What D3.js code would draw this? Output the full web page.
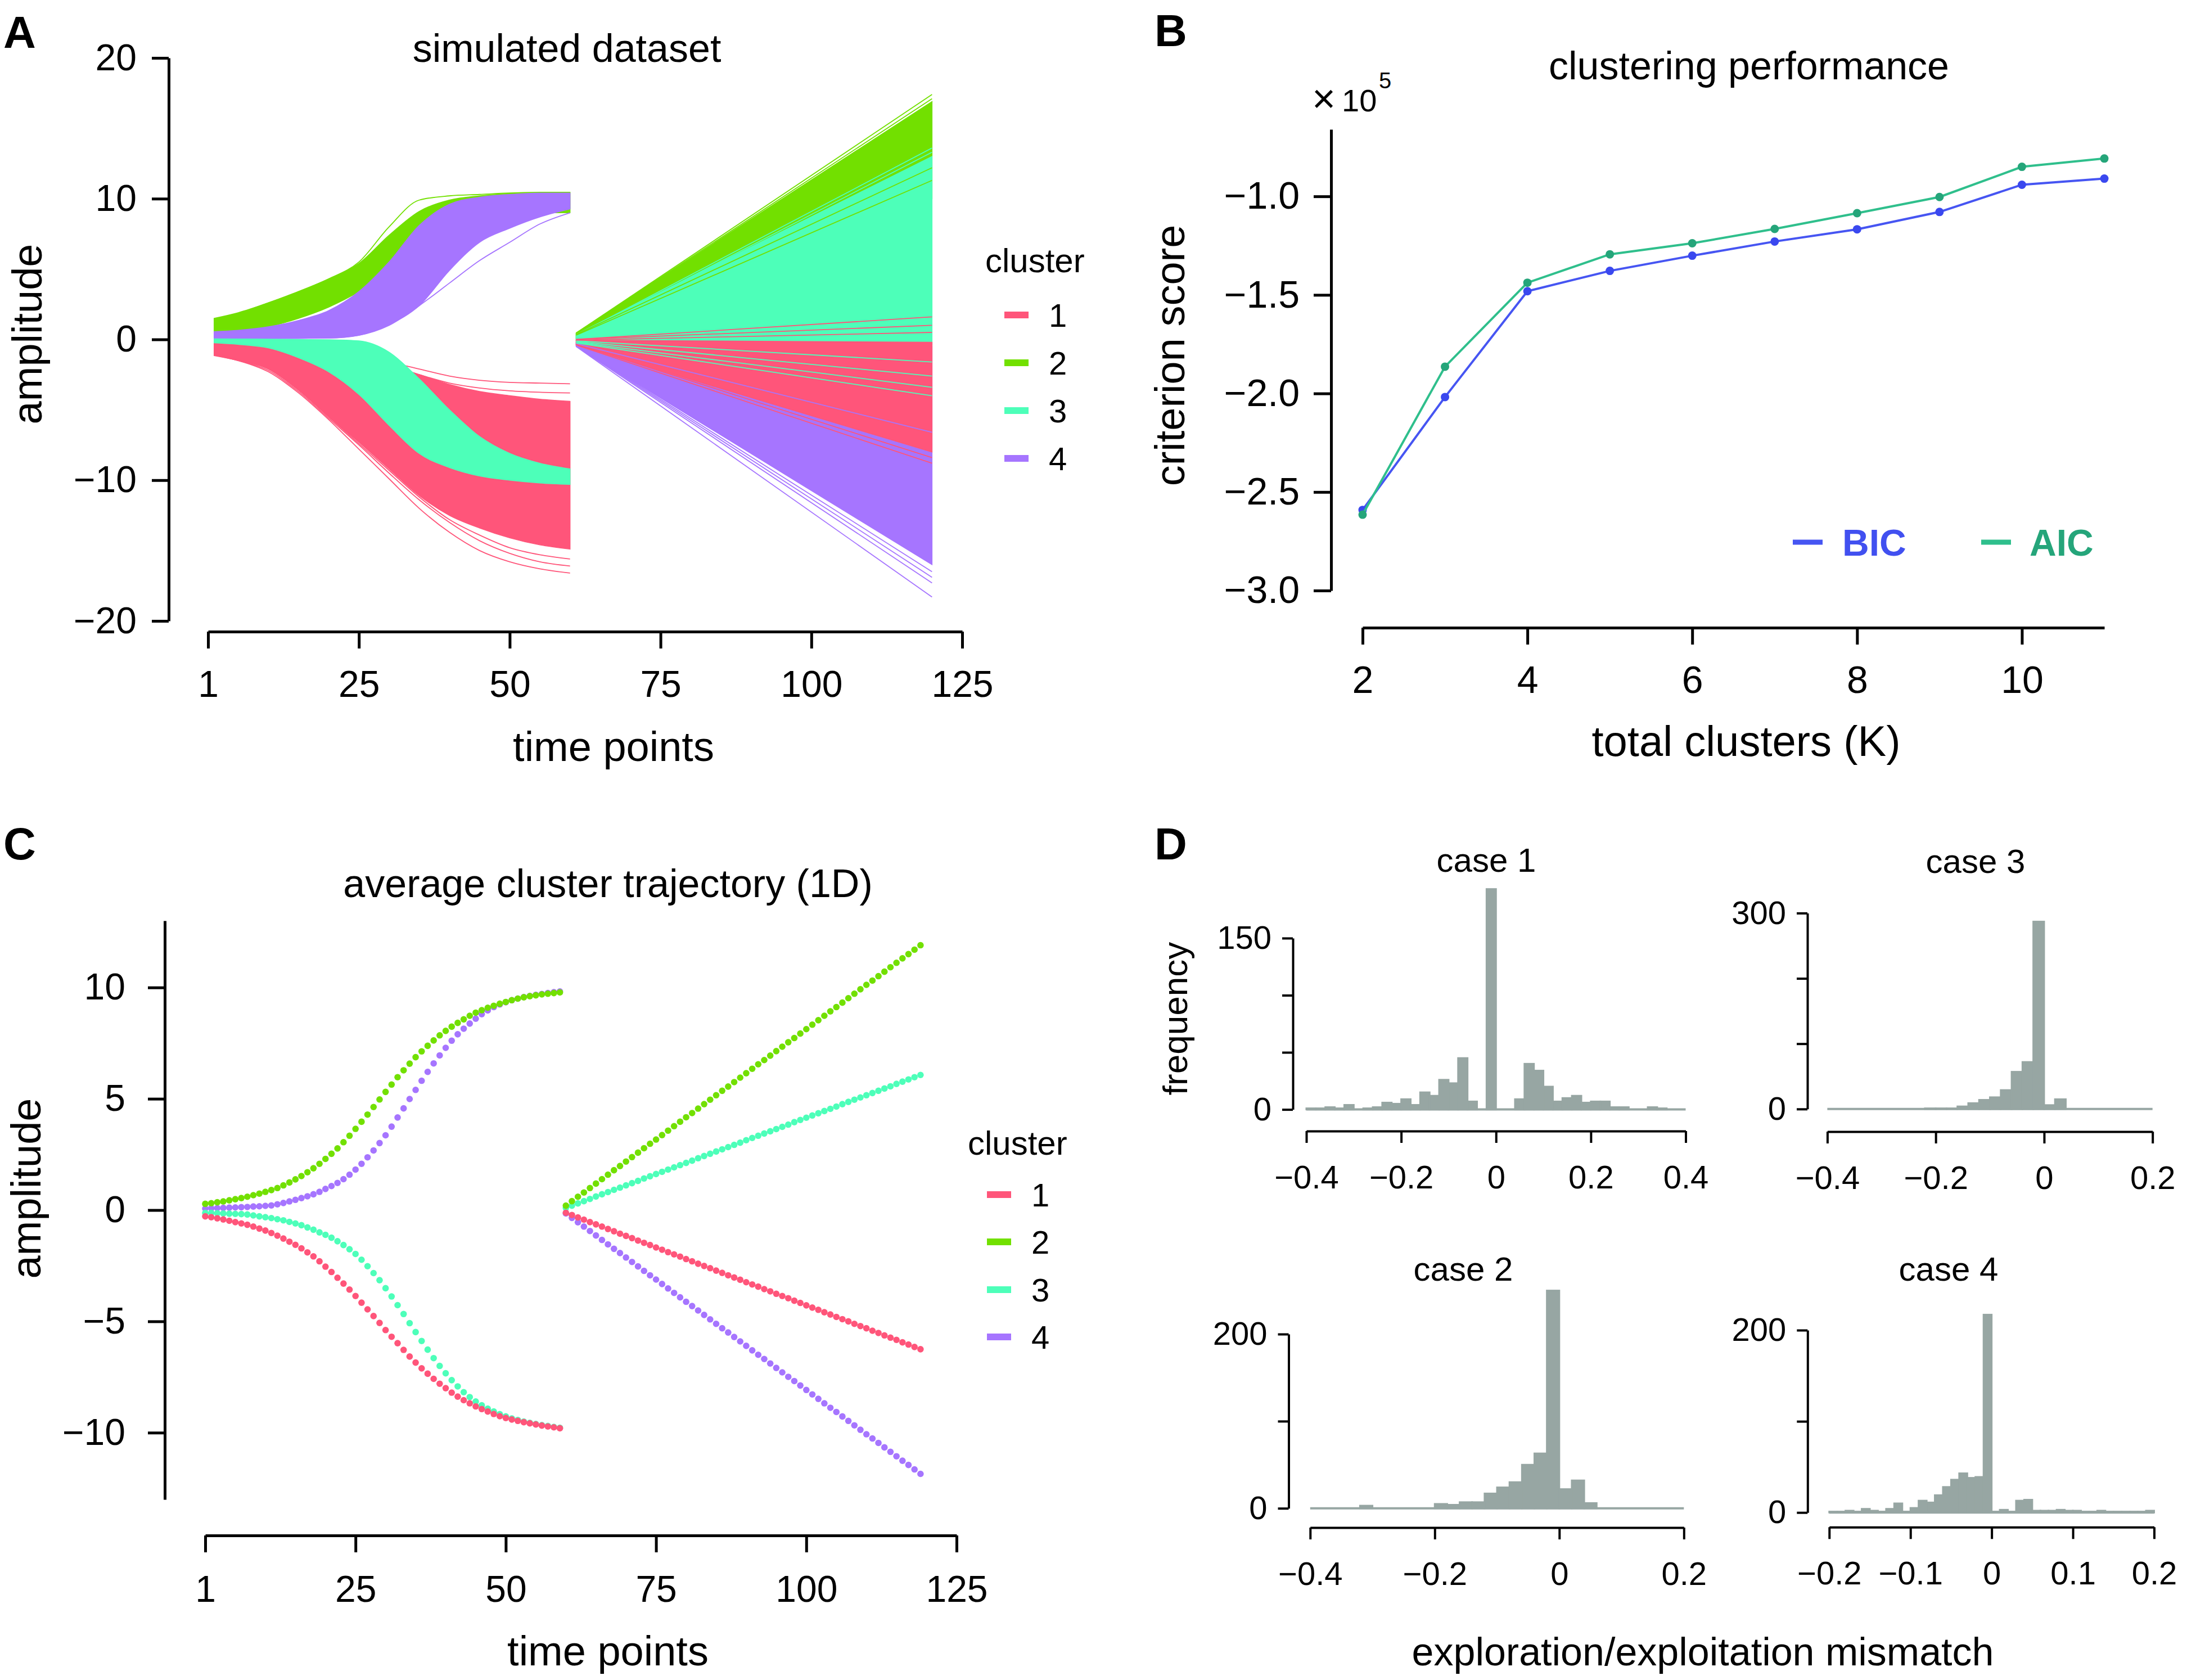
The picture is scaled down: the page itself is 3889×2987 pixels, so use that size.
<!DOCTYPE html>
<html><head><meta charset="utf-8">
<script src="https://cdn.jsdelivr.net/npm/d3@7"></script>
<style>
body{margin:0;background:#fff}
svg{display:block}
</style>
</head><body>
<svg id="chart" width="3889" height="2987"></svg>
<script>
// ================= DATA =================
const clusterNames = ["1","2","3","4"];
const clusterColors = ["#ff557a","#72e000","#4dffb9","#a675ff"];
const timeTickValues = [0,25,50,75,100,125];
const timeTickLabels = ["1","25","50","75","100","125"];

// Panel A: envelopes of the simulated trajectories (left segment, t = 1..60)
const tLeftA = [1,5,10,15,20,25,30,35,40,45,50,55,60];
const c2HiA = [1.5,1.9,2.6,3.4,4.3,5.4,7.4,9.1,9.9,10.2,10.35,10.4,10.45];
const c2LoA = [0.4,0.55,0.9,1.5,2.3,3.4,4.9,6.7,8.0,8.7,8.95,9.0,9.0];
const c4HiA = [0.55,0.65,0.9,1.35,2.05,3.4,5.5,8.1,9.6,10.1,10.3,10.4,10.4];
const c4LoA = [0.04,0.05,0.06,0.08,0.1,0.3,1.05,2.4,4.9,6.9,7.9,8.7,9.27];
const c3HiA = [0.04,0.03,0.02,0.0,-0.02,-0.1,-0.9,-2.8,-5.0,-6.9,-8.1,-8.8,-9.2];
const c3LoA = [-0.24,-0.35,-0.6,-1.3,-2.3,-3.9,-6.1,-8.1,-9.1,-9.7,-10.0,-10.2,-10.3];
const c1HiA = [-0.22,-0.3,-0.45,-0.7,-1.1,-1.6,-2.0,-2.5,-3.2,-3.7,-4.0,-4.25,-4.4];
const c1LoA = [-1.15,-1.5,-2.1,-3.6,-5.5,-7.3,-9.2,-11.1,-12.5,-13.4,-14.1,-14.6,-14.9];
// individual stray trajectories (left segment) [cluster index, values at tLeftA]
const strayLeftA = [
  [1,[1.45,1.85,2.6,3.4,4.3,5.5,8.0,9.9,10.2,10.3,10.4,10.45,10.45]],
  [3,[0.04,0.05,0.06,0.08,0.1,0.3,1.0,2.4,4.0,5.6,6.9,8.2,9.0]],
  [0,[-0.2,-0.3,-0.45,-0.65,-0.9,-1.2,-1.6,-2.1,-2.6,-2.9,-3.05,-3.1,-3.15]],
  [0,[-0.2,-0.3,-0.45,-0.65,-0.9,-1.3,-1.8,-2.5,-3.1,-3.45,-3.65,-3.75,-3.8]],
  [0,[-1.1,-1.5,-2.3,-3.8,-5.7,-7.8,-9.9,-12.0,-13.7,-15.0,-15.8,-16.3,-16.6]],
  [0,[-1.1,-1.5,-2.2,-3.7,-5.6,-7.5,-9.5,-11.4,-13.0,-14.3,-15.2,-15.8,-16.1]],
  [0,[-1.0,-1.4,-2.1,-3.6,-5.5,-7.4,-9.3,-11.2,-12.8,-13.9,-14.8,-15.3,-15.6]]
];
// Panel A right segment (t = 61..120), straight fans: [start, end]
const tRightA = [61,120];
const c2HiR = [0.45,16.9], c2LoR = [0.05,10.0];
const c3HiR = [0.35,13.0], c3LoR = [-0.1,-0.4];
const c4HiR = [-0.2,-0.5], c4LoR = [-0.48,-16.0];
const c1HiR = [-0.05,-0.2], c1LoR = [-0.4,-8.0];
const strayRightA = [ // [cluster index, start, end], in drawing order
  [1,0.45,17.4],[1,0.45,17.1],
  [2,0.3,13.6],[2,0.25,13.3],
  [1,0.35,12.2],[1,0.3,11.3]
];
const strayRightA2 = [
  [3,-0.3,-6.6],
  [2,-0.1,-1.6],[2,-0.15,-2.6],[2,-0.2,-3.4],[2,-0.25,-4.0],
  [0,0.0,1.6],[0,0.0,1.0],[0,-0.05,0.5],[0,-0.35,-8.4],[0,-0.4,-8.8],
  [3,-0.45,-16.5],[3,-0.46,-16.9],[3,-0.48,-17.3],[3,-0.5,-18.3]
];

// Panel B: criterion scores (x 10^5)
const totalK = [2,3,4,5,6,7,8,9,10,11];
const bicScore = [-2.591,-2.018,-1.481,-1.378,-1.301,-1.229,-1.167,-1.079,-0.941,-0.910];
const aicScore = [-2.615,-1.864,-1.438,-1.294,-1.238,-1.165,-1.085,-1.003,-0.850,-0.808];

// Panel C: average cluster trajectories, t = 1..60 and 61..120
const c1MeanL = [-0.28,-0.32,-0.37,-0.42,-0.48,-0.54,-0.60,-0.66,-0.74,-0.83,-0.92,-1.03,-1.15,-1.28,-1.42,-1.56,-1.72,-1.90,-2.08,-2.30,-2.54,-2.78,-3.04,-3.30,-3.57,-3.86,-4.16,-4.46,-4.76,-5.07,-5.39,-5.69,-5.98,-6.28,-6.58,-6.85,-7.11,-7.35,-7.58,-7.80,-8.00,-8.20,-8.38,-8.54,-8.68,-8.82,-8.94,-9.05,-9.16,-9.26,-9.34,-9.41,-9.47,-9.53,-9.58,-9.63,-9.68,-9.72,-9.76,-9.80];
const c2MeanL = [0.28,0.31,0.35,0.39,0.44,0.49,0.54,0.60,0.67,0.74,0.82,0.90,0.99,1.11,1.24,1.38,1.53,1.70,1.88,2.08,2.30,2.53,2.77,3.05,3.34,3.65,3.97,4.29,4.63,4.97,5.31,5.64,5.97,6.28,6.58,6.87,7.13,7.38,7.62,7.85,8.05,8.24,8.41,8.57,8.73,8.87,8.98,9.09,9.18,9.27,9.35,9.43,9.50,9.56,9.61,9.65,9.69,9.72,9.75,9.78];
const c3MeanL = [-0.13,-0.13,-0.14,-0.15,-0.16,-0.17,-0.18,-0.20,-0.24,-0.28,-0.32,-0.36,-0.41,-0.46,-0.53,-0.60,-0.68,-0.78,-0.88,-1.00,-1.11,-1.24,-1.40,-1.57,-1.76,-1.97,-2.23,-2.52,-2.83,-3.15,-3.51,-3.88,-4.27,-4.67,-5.08,-5.48,-5.88,-6.27,-6.65,-7.00,-7.33,-7.64,-7.92,-8.18,-8.40,-8.60,-8.77,-8.92,-9.05,-9.17,-9.27,-9.36,-9.43,-9.50,-9.56,-9.61,-9.66,-9.70,-9.74,-9.78];
const c4MeanL = [0.07,0.08,0.09,0.10,0.11,0.12,0.13,0.14,0.16,0.17,0.19,0.21,0.26,0.32,0.39,0.46,0.54,0.62,0.71,0.82,0.95,1.08,1.22,1.39,1.59,1.82,2.08,2.37,2.68,3.01,3.36,3.75,4.16,4.57,4.99,5.40,5.81,6.21,6.59,6.95,7.29,7.61,7.90,8.15,8.38,8.60,8.80,8.97,9.12,9.24,9.34,9.43,9.50,9.57,9.62,9.67,9.71,9.75,9.79,9.82];
const c1MeanR = [-0.12,-0.22,-0.33,-0.43,-0.54,-0.64,-0.74,-0.85,-0.95,-1.06,-1.16,-1.26,-1.37,-1.47,-1.57,-1.68,-1.78,-1.89,-1.99,-2.09,-2.20,-2.30,-2.41,-2.51,-2.61,-2.72,-2.82,-2.93,-3.03,-3.13,-3.24,-3.34,-3.44,-3.55,-3.65,-3.76,-3.86,-3.96,-4.07,-4.17,-4.28,-4.38,-4.48,-4.59,-4.69,-4.80,-4.90,-5.00,-5.11,-5.21,-5.31,-5.42,-5.52,-5.63,-5.73,-5.83,-5.94,-6.04,-6.15,-6.25];
const c2MeanR = [0.20,0.40,0.60,0.79,0.99,1.19,1.39,1.59,1.79,1.98,2.18,2.38,2.58,2.78,2.98,3.17,3.37,3.57,3.77,3.97,4.17,4.36,4.56,4.76,4.96,5.16,5.36,5.55,5.75,5.95,6.15,6.35,6.55,6.74,6.94,7.14,7.34,7.54,7.73,7.93,8.13,8.33,8.53,8.73,8.93,9.12,9.32,9.52,9.72,9.92,10.12,10.31,10.51,10.71,10.91,11.11,11.31,11.50,11.70,11.90];
const c3MeanR = [0.10,0.20,0.30,0.40,0.50,0.61,0.71,0.81,0.91,1.01,1.11,1.21,1.31,1.42,1.52,1.62,1.72,1.82,1.92,2.02,2.12,2.22,2.33,2.43,2.53,2.63,2.73,2.83,2.93,3.03,3.14,3.24,3.34,3.44,3.54,3.64,3.74,3.84,3.95,4.05,4.15,4.25,4.35,4.45,4.55,4.65,4.76,4.86,4.96,5.06,5.16,5.26,5.36,5.46,5.56,5.67,5.77,5.87,5.97,6.07];
const c4MeanR = [-0.15,-0.35,-0.55,-0.74,-0.94,-1.14,-1.34,-1.54,-1.74,-1.93,-2.13,-2.33,-2.53,-2.73,-2.93,-3.12,-3.32,-3.52,-3.72,-3.92,-4.12,-4.31,-4.51,-4.71,-4.91,-5.11,-5.31,-5.50,-5.70,-5.90,-6.10,-6.30,-6.50,-6.69,-6.89,-7.09,-7.29,-7.49,-7.68,-7.88,-8.08,-8.28,-8.48,-8.68,-8.88,-9.07,-9.27,-9.47,-9.67,-9.87,-10.07,-10.26,-10.46,-10.66,-10.86,-11.06,-11.26,-11.45,-11.65,-11.85];

// Panel D: histograms of exploration/exploitation mismatch
const case1Counts = [1,1,2,1,4,0,1,2,6,5,9,4,15,12,26,23,45,7,0,193,0,0,9,40,34,20,7,10,12,6,7,7,2,2,0,0,2,1,0,0]; // bins of 0.02 from -0.4
const case3Counts = [0,0,0,0,0,0,0,0,0,1,1,1,4,9,14,18,29,57,72,287,6,15,0,0,0,0,0,0,0,0]; // bins of 0.02 from -0.4
const case2Counts = [0,0,0,0,3,0,0,0,0,0,5,4,7,7,17,24,30,50,63,250,22,32,6,0,0,0,0,0,0,0]; // bins of 0.02 from -0.4
const case4Counts = [1,1,2,1,4,2,1,4,10,1,5,13,11,19,28,36,43,38,39,217,1,3,1,13,14,2,2,2,3,2,2,1,1,2,1,1,1,1,1,2]; // bins of 0.01 from -0.2

// ================= DRAWING =================
const FONT = '"Liberation Sans", Arial, Helvetica, sans-serif';
const svg = d3.select("#chart").attr("font-family", FONT);
svg.append("rect").attr("width",3889).attr("height",2987).attr("fill","#fff");

function styleAxis(g, sw, fs) {
  g.attr("font-family", FONT).attr("font-size", fs);
  g.select(".domain").attr("stroke","#000").attr("stroke-width", sw);
  g.selectAll(".tick line").attr("stroke","#000").attr("stroke-width", sw);
  g.selectAll(".tick text").attr("fill","#000").attr("font-size", fs);
}
function text(x, y, s, fs, opts={}) {
  const t = svg.append("text").attr("x",x).attr("y",y).attr("font-size",fs).text(s)
    .attr("text-anchor", opts.anchor || "start").attr("fill", opts.fill || "#000");
  if (opts.bold) t.attr("font-weight","bold");
  if (opts.rotate) t.attr("transform", `rotate(-90,${x},${y})`);
  return t;
}
const minusFmt = v => v === 0 ? "0" : d3.format(".1f")(v);

// ---------- Panel A ----------
const xA = d3.scaleLinear().domain([0,125]).range([370,1711]);
const yA = d3.scaleLinear().domain([-20,20]).range([1104,103]);
const gA = svg.append("g");
function bandA(ts, hi, lo, color, curve) {
  const ar = d3.area().x((d,i)=>xA(ts[i])).y0((d,i)=>yA(lo[i])).y1((d,i)=>yA(hi[i])).curve(curve);
  gA.append("path").attr("d", ar(hi)).attr("fill", color).attr("stroke", color).attr("stroke-width",1.5);
}
function lineA(ts, vals, color, curve) {
  const ln = d3.line().x((d,i)=>xA(ts[i])).y(d=>yA(d)).curve(curve);
  gA.append("path").attr("d", ln(vals)).attr("fill","none").attr("stroke", color).attr("stroke-width",1.8);
}
const mono = d3.curveMonotoneX, lin = d3.curveLinear;
// left segment
bandA(tLeftA, c2HiA, c2LoA, clusterColors[1], mono);
lineA(tLeftA, strayLeftA[0][1], clusterColors[strayLeftA[0][0]], mono);
lineA(tLeftA, strayLeftA[1][1], clusterColors[strayLeftA[1][0]], mono);
bandA(tLeftA, c4HiA, c4LoA, clusterColors[3], mono);
bandA(tLeftA, c1HiA, c1LoA, clusterColors[0], mono);
lineA(tLeftA, strayLeftA[2][1], clusterColors[0], mono);
lineA(tLeftA, strayLeftA[3][1], clusterColors[0], mono);
bandA(tLeftA, c3HiA, c3LoA, clusterColors[2], mono);
strayLeftA.slice(4).forEach(s => lineA(tLeftA, s[1], clusterColors[s[0]], mono));
// right segment
bandA(tRightA, c2HiR, c2LoR, clusterColors[1], lin);
bandA(tRightA, c3HiR, c3LoR, clusterColors[2], lin);
strayRightA.forEach(s => lineA(tRightA, [s[1],s[2]], clusterColors[s[0]], lin));
bandA(tRightA, c4HiR, c4LoR, clusterColors[3], lin);
bandA(tRightA, c1HiR, c1LoR, clusterColors[0], lin);
strayRightA2.forEach(s => lineA(tRightA, [s[1],s[2]], clusterColors[s[0]], lin));

styleAxis(svg.append("g").attr("transform","translate(300,0)")
  .call(d3.axisLeft(yA).tickValues([-20,-10,0,10,20]).tickSize(30).tickPadding(27).tickSizeOuter(0)), 5, 66);
styleAxis(svg.append("g").attr("transform","translate(0,1123)")
  .call(d3.axisBottom(xA).tickValues(timeTickValues).tickFormat((d,i)=>timeTickLabels[i]).tickSize(30).tickPadding(39).tickSizeOuter(0)), 5, 66);
text(1008, 110, "simulated dataset", 70, {anchor:"middle"});
text(1091, 1353, "time points", 74, {anchor:"middle"});
text(74, 594, "amplitude", 74, {anchor:"middle", rotate:true});
text(6, 85, "A", 80, {bold:true});

function clusterLegend(x0, yTitle, rows) {
  text(x0, yTitle, "cluster", 60);
  clusterNames.forEach((n,i) => {
    svg.append("line").attr("x1", x0+34).attr("x2", x0+77).attr("y1", rows[i]).attr("y2", rows[i])
      .attr("stroke", clusterColors[i]).attr("stroke-width", 12);
    text(x0+113, rows[i], n, 58).attr("dominant-baseline","central");
  });
}
clusterLegend(1752, 484, [560,645,730,815]);

// ---------- Panel B ----------
const xB = d3.scaleLinear().domain([2,11]).range([2423,3742]);
const yB = d3.scaleLinear().domain([-3.0,-0.66]).range([1050,230]);
const bicColor = "#4655f2", aicColor = "#2fbf8c", aicPt = "#25a57a";
const lnB = d3.line().x((d,i)=>xB(totalK[i])).y(d=>yB(d));
svg.append("path").attr("d", lnB(bicScore)).attr("fill","none").attr("stroke", bicColor).attr("stroke-width",4);
svg.selectAll(".bicpt").data(bicScore).enter().append("circle")
  .attr("cx",(d,i)=>xB(totalK[i])).attr("cy",d=>yB(d)).attr("r",7.5).attr("fill","#3a48ef");
svg.append("path").attr("d", lnB(aicScore)).attr("fill","none").attr("stroke", aicColor).attr("stroke-width",4);
svg.selectAll(".aicpt").data(aicScore).enter().append("circle")
  .attr("cx",(d,i)=>xB(totalK[i])).attr("cy",d=>yB(d)).attr("r",7.5).attr("fill",aicPt);
styleAxis(svg.append("g").attr("transform","translate(2367,0)")
  .call(d3.axisLeft(yB).tickValues([-3,-2.5,-2,-1.5,-1]).tickFormat(d3.format(".1f")).tickSize(31).tickPadding(25).tickSizeOuter(0)), 5, 68);
styleAxis(svg.append("g").attr("transform","translate(0,1116)")
  .call(d3.axisBottom(xB).tickValues([2,4,6,8,10]).tickSize(30).tickPadding(38).tickSizeOuter(0)), 5, 68);
text(3110, 141, "clustering performance", 70, {anchor:"middle"});
text(3105, 1344, "total clusters (K)", 76, {anchor:"middle"});
text(2106, 632, "criterion score", 74, {anchor:"middle", rotate:true});
text(2333, 200, "\u00d7", 72);
text(2386, 198, "10", 56);
text(2452, 157, "5", 40);
text(2053, 82, "B", 80, {bold:true});
svg.append("line").attr("x1",3188).attr("x2",3241).attr("y1",964).attr("y2",964).attr("stroke",bicColor).attr("stroke-width",9);
text(3276, 988, "BIC", 66, {bold:true, fill:"#4150f0"});
svg.append("line").attr("x1",3523).attr("x2",3576).attr("y1",964).attr("y2",964).attr("stroke",aicColor).attr("stroke-width",9);
text(3609, 988, "AIC", 66, {bold:true, fill:aicPt});

// ---------- Panel C ----------
const xC = d3.scaleLinear().domain([0,125]).range([365,1701]);
const yC = d3.scaleLinear().domain([-13,13]).range([2666,1637]);
const meansL = [c1MeanL, c2MeanL, c3MeanL, c4MeanL];
const meansR = [c1MeanR, c2MeanR, c3MeanR, c4MeanR];
const gC = svg.append("g");
[3,2,1,0].forEach(ci => {
  gC.selectAll(null).data(meansL[ci]).enter().append("circle")
    .attr("cx",(d,i)=>xC(i)).attr("cy",d=>yC(d)).attr("r",5.8).attr("fill",clusterColors[ci]);
  gC.selectAll(null).data(meansR[ci]).enter().append("circle")
    .attr("cx",(d,i)=>xC(60+i)).attr("cy",d=>yC(d)).attr("r",5.8).attr("fill",clusterColors[ci]);
});
styleAxis(svg.append("g").attr("transform","translate(293,0)")
  .call(d3.axisLeft(yC).tickValues([-10,-5,0,5,10]).tickSize(30).tickPadding(40).tickSizeOuter(0)), 5, 66);
styleAxis(svg.append("g").attr("transform","translate(0,2730)")
  .call(d3.axisBottom(xC).tickValues(timeTickValues).tickFormat((d,i)=>timeTickLabels[i]).tickSize(30).tickPadding(41).tickSizeOuter(0)), 5, 66);
text(1081, 1595, "average cluster trajectory (1D)", 70, {anchor:"middle"});
text(1081, 2961, "time points", 74, {anchor:"middle"});
text(72, 2113, "amplitude", 74, {anchor:"middle", rotate:true});
text(6, 1528, "C", 80, {bold:true});
clusterLegend(1721, 2053, [2124,2208,2293,2377]);

// ---------- Panel D ----------
const histColor = "#97a6a3";
function histogram(counts, x0, binW, xDom, xRange, yMax, yRange, axisX, axisY, xTicks, yTicks, yLabels, title, titlePos) {
  const xs = d3.scaleLinear().domain(xDom).range(xRange);
  const ys = d3.scaleLinear().domain([0,yMax]).range(yRange);
  const g = svg.append("g");
  g.append("line").attr("x1", xs(xDom[0])).attr("x2", xs(xDom[1])).attr("y1", ys(0)).attr("y2", ys(0))
    .attr("stroke", histColor).attr("stroke-width", 4);
  g.selectAll("rect").data(counts).enter().append("rect")
    .attr("x",(d,i)=>xs(x0+i*binW)).attr("width",(d,i)=>xs(x0+(i+1)*binW)-xs(x0+i*binW))
    .attr("y",d=>ys(d)).attr("height",d=>ys(0)-ys(d))
    .attr("fill",histColor).attr("stroke",histColor).attr("stroke-width",3);
  styleAxis(svg.append("g").attr("transform",`translate(${axisX},0)`)
    .call(d3.axisLeft(ys).tickValues(yTicks).tickFormat(d=>yLabels.includes(d)?String(d):"").tickSize(19).tickPadding(19).tickSizeOuter(0)), 4, 58);
  styleAxis(svg.append("g").attr("transform",`translate(0,${axisY})`)
    .call(d3.axisBottom(xs).tickValues(xTicks).tickFormat(minusFmt).tickSize(21).tickPadding(40).tickSizeOuter(0)), 4, 58);
  text(titlePos[0], titlePos[1], title, 60, {anchor:"middle"});
}
histogram(case1Counts, -0.4, 0.02, [-0.4,0.4], [2323,2997.5], 150, [1972.6,1668], 2299, 2011,
  [-0.4,-0.2,0,0.2,0.4], [0,50,100,150], [0,150], "case 1", [2643,1550]);
histogram(case3Counts, -0.4, 0.02, [-0.4,0.2], [3249.4,3827.7], 300, [1971.8,1623.5], 3214, 2012,
  [-0.4,-0.2,0,0.2], [0,100,200,300], [0,300], "case 3", [3513,1552]);
histogram(case2Counts, -0.4, 0.02, [-0.4,0.2], [2329.8,2994.3], 200, [2681.7,2372], 2291.5, 2716,
  [-0.4,-0.2,0,0.2], [0,100,200], [0,200], "case 2", [2602,2277]);
histogram(case4Counts, -0.2, 0.01, [-0.2,0.2], [3252.8,3830.5], 200, [2689.2,2365], 3214.3, 2715.3,
  [-0.2,-0.1,0,0.1,0.2], [0,100,200], [0,200], "case 4", [3465,2277]);
text(2111, 1811, "frequency", 62, {anchor:"middle", rotate:true});
text(3028, 2961, "exploration/exploitation mismatch", 70, {anchor:"middle"});
text(2053, 1528, "D", 80, {bold:true});
</script>
</body></html>
